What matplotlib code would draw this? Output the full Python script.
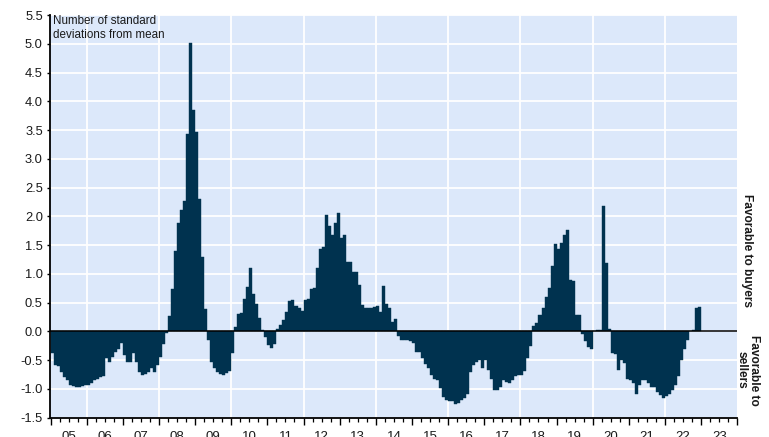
import numpy as np
import matplotlib
matplotlib.use("Agg")
import matplotlib.pyplot as plt
from matplotlib.ticker import FixedLocator, FuncFormatter

# ---------------- data (monthly, Jan 2005 - Dec 2022) ----------------
start_year = 2005
v2005 = [-0.38, -0.58, -0.60, -0.70, -0.79, -0.85, -0.93, -0.95, -0.96, -0.96, -0.95, -0.93]
v2006 = [-0.93, -0.90, -0.85, -0.82, -0.80, -0.78, -0.47, -0.53, -0.44, -0.35, -0.30, -0.21]
v2007 = [-0.41, -0.53, -0.53, -0.38, -0.53, -0.70, -0.76, -0.74, -0.70, -0.64, -0.70, -0.59]
v2008 = [-0.44, -0.22, -0.03, 0.27, 0.73, 1.40, 1.88, 2.11, 2.27, 3.44, 5.02, 3.84]
v2009 = [3.47, 2.30, 1.30, 0.39, -0.15, -0.53, -0.64, -0.70, -0.74, -0.76, -0.72, -0.69]
v2010 = [-0.38, 0.08, 0.31, 0.32, 0.56, 0.78, 1.11, 0.65, 0.48, 0.23, 0.03, -0.09]
v2011 = [-0.24, -0.28, -0.22, 0.05, 0.11, 0.20, 0.34, 0.52, 0.54, 0.44, 0.40, 0.35]
v2012 = [0.54, 0.57, 0.73, 0.75, 1.10, 1.43, 1.46, 2.03, 1.83, 1.67, 1.88, 2.06]
v2013 = [1.62, 1.67, 1.21, 1.21, 1.04, 1.04, 0.80, 0.46, 0.40, 0.40, 0.41, 0.42]
v2014 = [0.44, 0.33, 0.79, 0.48, 0.40, 0.17, 0.21, -0.08, -0.15, -0.15, -0.15, -0.16]
v2015 = [-0.21, -0.35, -0.35, -0.47, -0.56, -0.64, -0.76, -0.82, -0.85, -0.99, -1.14, -1.19]
v2016 = [-1.21, -1.21, -1.26, -1.24, -1.19, -1.15, -1.08, -0.70, -0.59, -0.54, -0.50, -0.64]
v2017 = [-0.49, -0.67, -0.83, -1.01, -1.01, -0.97, -0.85, -0.88, -0.89, -0.85, -0.78, -0.76]
v2018 = [-0.76, -0.68, -0.47, -0.25, 0.09, 0.14, 0.28, 0.40, 0.59, 0.75, 1.14, 1.52]
v2019 = [1.43, 1.53, 1.68, 1.77, 0.89, 0.88, 0.28, 0.28, -0.05, -0.16, -0.27, -0.30]
v2020 = [0.00, 0.02, 0.02, 2.18, 1.19, 0.05, -0.38, -0.40, -0.67, -0.50, -0.55, -0.82]
v2021 = [-0.85, -0.90, -1.09, -0.93, -0.85, -0.85, -0.90, -0.96, -0.96, -1.06, -1.10, -1.15]
v2022 = [-1.13, -1.08, -1.02, -0.93, -0.78, -0.50, -0.30, -0.15, 0.01, 0.02, 0.40, 0.42]

values = (v2005 + v2006 + v2007 + v2008 + v2009 + v2010 + v2011 + v2012 + v2013
          + v2014 + v2015 + v2016 + v2017 + v2018 + v2019 + v2020 + v2021 + v2022)

year_labels = ["05", "06", "07", "08", "09", "10", "11", "12", "13", "14",
               "15", "16", "17", "18", "19", "20", "21", "22", "23"]
y_ticks = [-1.5, -1.0, -0.5, 0.0, 0.5, 1.0, 1.5, 2.0, 2.5, 3.0, 3.5, 4.0, 4.5, 5.0, 5.5]

# ---------------- style ----------------
plt.rcParams["font.family"] = ["Liberation Sans", "DejaVu Sans"]
BAR = "#00324f"
BG = "#dce8fa"
TXT = "#1a1a1a"

fig = plt.figure(figsize=(7.69, 4.37), dpi=100)
ax = fig.add_axes([50.5 / 769, (437 - 417.7) / 437, (737.3 - 50.5) / 769, (417.7 - 15) / 437])
ax.set_facecolor(BG)

n = len(values)
x = start_year + np.arange(n) / 12.0
ax.bar(x, values, width=1 / 12.0, align="edge", color=BAR, edgecolor=BAR,
       linewidth=0.3, zorder=2)

years = np.arange(start_year, start_year + len(year_labels) + 1)
ax.set_xlim(years[0], years[-1])
ax.set_ylim(y_ticks[0], y_ticks[-1])

# grid
ax.set_axisbelow(True)
for yv in y_ticks:
    ax.axhline(yv, color="white", lw=1.3, zorder=0.5)
for yr in years[1:-1]:
    if yr % 2 == 0:
        ax.axvline(yr, color="white", lw=1.3, zorder=0.5)
ax.axhline(0, color="black", lw=1.1, zorder=3)

# spines
for s in ["top", "right"]:
    ax.spines[s].set_visible(False)
for s in ["left", "bottom"]:
    ax.spines[s].set_color("black")
    ax.spines[s].set_linewidth(1.3)
    ax.spines[s].set_zorder(4)

# y axis
ax.yaxis.set_major_locator(FixedLocator(y_ticks))
ax.yaxis.set_major_formatter(FuncFormatter(lambda v, p: f"{v:.1f}"))
ax.tick_params(axis="y", direction="out", length=2.5, width=1, pad=3,
               labelsize=9.3, labelcolor=TXT)

# x axis: year ticks + quarterly minor ticks, labels centred in each year
ax.xaxis.set_major_locator(FixedLocator(years))
ax.xaxis.set_minor_locator(FixedLocator(np.arange(years[0], years[-1], 0.25)))
ax.tick_params(axis="x", which="major", direction="out", length=5, width=1, labelbottom=False)
ax.tick_params(axis="x", which="minor", direction="out", length=3, width=0.9)

sec = ax.secondary_xaxis("bottom")
sec.set_xticks(years[:-1] + 0.5, labels=year_labels)
sec.tick_params(length=0, pad=9.5, labelsize=9.5, labelcolor=TXT)
sec.spines["bottom"].set_visible(False)

# texts
ax.text(0.003, 1.0, "Number of standard\ndeviations from mean", transform=ax.transAxes,
        ha="left", va="top", fontsize=8.4, color=TXT, linespacing=1.25)
fig.text(746.7 / 769, 1 - 250 / 437, "Favorable to buyers", rotation=-90,
         ha="center", va="center", fontsize=8.6, fontweight="bold", color=TXT)
fig.text(747.5 / 769, 1 - 370 / 437, "Favorable to\nsellers", rotation=-90,
         ha="center", va="center", multialignment="center", fontsize=8.6,
         fontweight="bold", color=TXT, linespacing=1.05)

fig.savefig("out.png", dpi=100)
